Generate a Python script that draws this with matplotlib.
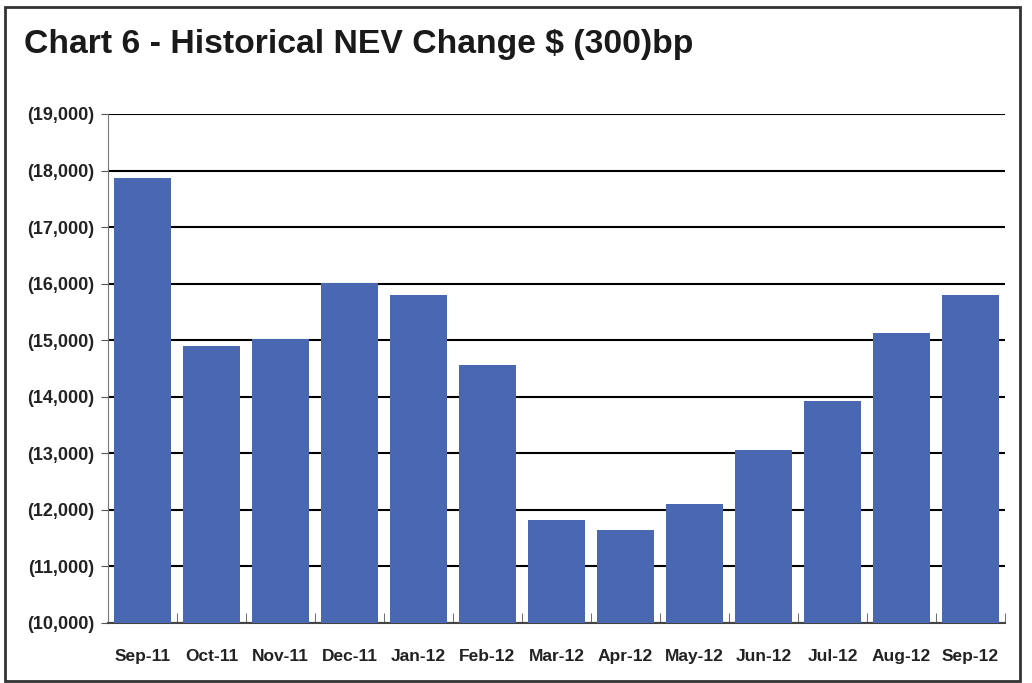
import matplotlib.pyplot as plt
from matplotlib.patches import Rectangle
from matplotlib.ticker import FixedLocator

# --- data ---
months = ["Sep-11", "Oct-11", "Nov-11", "Dec-11", "Jan-12", "Feb-12", "Mar-12",
          "Apr-12", "May-12", "Jun-12", "Jul-12", "Aug-12", "Sep-12"]
nev_change = [17870, 14900, 15020, 16010, 15800, 14560, 11820,
              11640, 12100, 13060, 13930, 15130, 15800]
y_ticks = list(range(10000, 19001, 1000))
y_labels = ["({:,})".format(v) for v in y_ticks]

narrow = ["Liberation Sans Narrow", "Liberation Sans", "DejaVu Sans"]

fig = plt.figure(figsize=(10.32, 6.83), dpi=100)
ax = fig.add_axes([108 / 1032, 1 - 623 / 683, (1005 - 108) / 1032, (623 - 114) / 683])

# outer frame
fig.patches.append(Rectangle((5 / 1032, 1 - 681 / 683), 1015 / 1032, 674 / 683,
                             transform=fig.transFigure, fill=False,
                             edgecolor="#333333", linewidth=2))

fig.text(24 / 1032, 1 - 53 / 683, "Chart 6 - Historical NEV Change $ (300)bp",
         fontsize=24.3, fontweight="bold", family="Liberation Sans", color="#1a1a1a")

x = list(range(len(months)))
ax.bar(x, [v - 10000 for v in nev_change], bottom=10000, width=0.84,
       color="#4968B1", zorder=3)

ax.set_xlim(-0.5, len(months) - 0.5)
ax.set_ylim(10000, 19000)
ax.set_yticks(y_ticks)
ax.set_yticklabels(y_labels, fontsize=13, fontweight="bold", family=narrow, color="#222222")
ax.set_xticks(x)
ax.set_xticklabels(months, fontsize=12.5, fontweight="bold", family=narrow, color="#222222")
ax.tick_params(axis="x", length=0, pad=19)
ax.xaxis.set_minor_locator(FixedLocator([i + 0.5 for i in x]))
ax.tick_params(axis="x", which="minor", direction="in", length=7, color="#555555")
ax.tick_params(axis="y", direction="out", length=5, color="#555555", pad=5)

ax.grid(axis="y", color="black", linewidth=1.5, zorder=1)
for side in ["top", "right"]:
    ax.spines[side].set_visible(False)
ax.spines["left"].set_color("#777777")
ax.spines["bottom"].set_color("#444444")
ax.spines["bottom"].set_linewidth(1.5)

plt.savefig("out.png", dpi=100)
